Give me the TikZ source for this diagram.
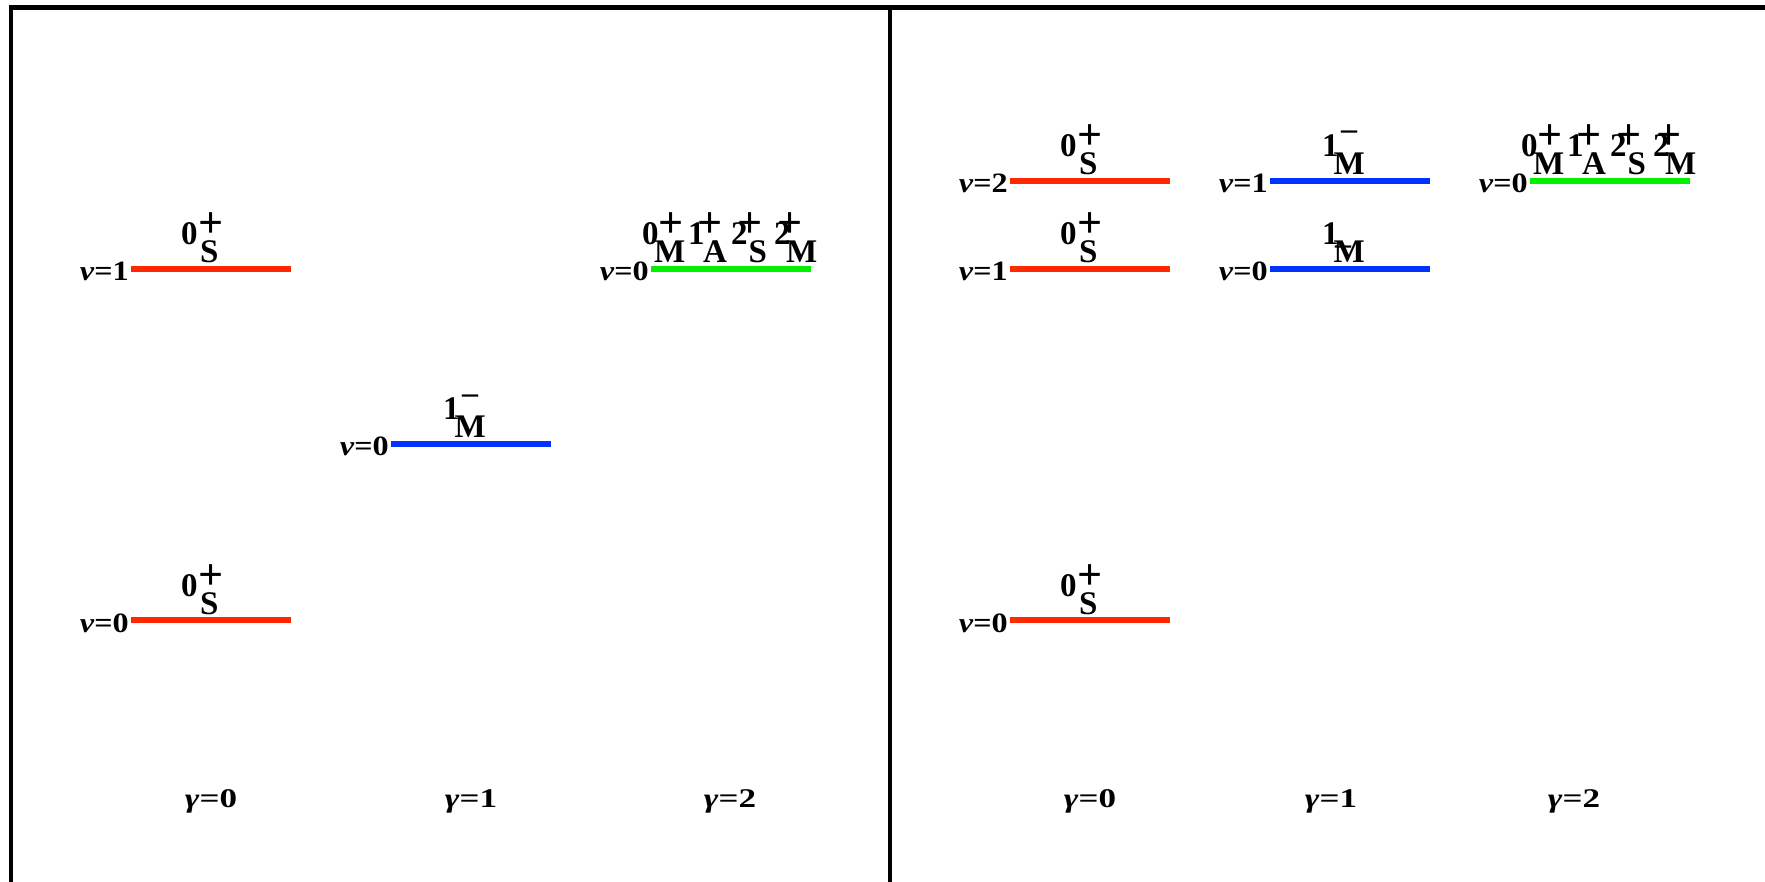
\documentclass[tikz,border=0pt]{standalone}
\usepackage{fontspec}
\usepackage{graphicx}
\setmainfont{Liberation Serif}
\definecolor{lvred}{RGB}{255,40,0}
\definecolor{lvblue}{RGB}{0,51,255}
\definecolor{lvgreen}{RGB}{0,240,0}

% level line: name, style, x of left end, y
\newcommand\lvlline[4]{%
  \coordinate (#1a) at (#3,#4);
  \coordinate (#1b) at (#3+160,#4);
  \draw[#2] (#1a) -- (#1b);}
% vibrational label left of a level: name, text
\newcommand\nulabel[2]{%
  \node[nulab,anchor=base east] (#1n) at ([xshift=-2pt,yshift=-12pt]#1a)
    {\scalebox{1.15}[1]{\textit{ν}=#2}};}
% J^P_K term: name, digit x, baseline, digit, sub x, sub, sign x, sign y, sign
\newcommand\jt[9]{%
  \node[lab,anchor=base west] (#1d) at (#2,#3) {#4};
  \node[lab,anchor=base west] (#1s) at (#5,#3+18) {#6};
  \node[signlab,anchor=center] (#1p) at (#7,#8) {#9};}
\newcommand\minussign{{\fontsize{32}{36}\selectfont –}}

\begin{document}
\begin{tikzpicture}[x=1pt,y=-1pt,
  frame/.style={line width=4.5pt,black},
  redlvl/.style={line width=6pt,lvred},
  bluelvl/.style={line width=6pt,lvblue},
  greenlvl/.style={line width=6pt,lvgreen},
  lab/.style={inner sep=0pt,font=\fontsize{33}{36}\selectfont\bfseries},
  signlab/.style={inner sep=0pt,font=\fontsize{44}{48}\selectfont\bfseries},
  nulab/.style={inner sep=0pt,font=\fontsize{28}{30}\selectfont\bfseries},
  gamlab/.style={inner sep=0pt,font=\fontsize{27}{30}\selectfont\bfseries}]
\useasboundingbox (0,0) rectangle (1765,882);

% panel frame
\coordinate (bl) at (11,882);
\coordinate (tl) at (11,7.5);
\coordinate (tr) at (1765,7.5);
\coordinate (mt) at (890,7.5);
\coordinate (mb) at (890,882);
\draw[frame] (bl) -- (tl) -- (tr);
\draw[frame] (mt) -- (mb);

% ---------- left panel ----------
\lvlline{La}{redlvl}{131}{268.7}
\lvlline{Lb}{redlvl}{131}{620}
\lvlline{Lc}{bluelvl}{391}{444}
\lvlline{Lg}{greenlvl}{651}{268.7}
\nulabel{La}{1}
\nulabel{Lb}{0}
\nulabel{Lc}{0}
\nulabel{Lg}{0}
\jt{ta}{181}{244.7}{0}{200}{S}{211}{225.5}{+}
\jt{tb}{181}{596}{0}{200}{S}{211}{577}{+}
\jt{tc}{443}{420}{1}{454.5}{M}{470}{399}{\minussign}
\jt{tga}{642}{244.7}{0}{654}{M}{671}{225.5}{+}
\jt{tgb}{688}{244.7}{1}{703}{A}{710}{225.5}{+}
\jt{tgc}{731}{244.7}{2}{748.5}{S}{750}{225.5}{+}
\jt{tgd}{774}{244.7}{2}{786}{M}{790.5}{225.5}{+}

% ---------- right panel ----------
\lvlline{Ra}{redlvl}{1010}{180.7}
\lvlline{Rb}{redlvl}{1010}{268.7}
\lvlline{Rc}{redlvl}{1010}{620}
\lvlline{Rd}{bluelvl}{1270}{180.7}
\lvlline{Re}{bluelvl}{1270}{268.7}
\lvlline{Rg}{greenlvl}{1530}{180.7}
\nulabel{Ra}{2}
\nulabel{Rb}{1}
\nulabel{Rc}{0}
\nulabel{Rd}{1}
\nulabel{Re}{0}
\nulabel{Rg}{0}
\jt{ua}{1060}{156.7}{0}{1079}{S}{1090}{137.5}{+}
\jt{ub}{1060}{244.7}{0}{1079}{S}{1090}{225.5}{+}
\jt{uc}{1060}{596}{0}{1079}{S}{1090}{577}{+}
\jt{ud}{1322}{156.7}{1}{1333.5}{M}{1349}{135.7}{\minussign}
\jt{ue}{1322}{244.7}{1}{1333.5}{M}{1343}{250}{\minussign}
\jt{uga}{1521}{156.7}{0}{1533}{M}{1550}{137.5}{+}
\jt{ugb}{1567}{156.7}{1}{1582}{A}{1589}{137.5}{+}
\jt{ugc}{1610}{156.7}{2}{1627.5}{S}{1629}{137.5}{+}
\jt{ugd}{1653}{156.7}{2}{1665}{M}{1669.5}{137.5}{+}

% ---------- gamma labels ----------
\node[gamlab,anchor=base] (g0) at (211,807) {\scalebox{1.3}[1]{\textit{γ}=0}};
\node[gamlab,anchor=base] (g1) at (471,807) {\scalebox{1.3}[1]{\textit{γ}=1}};
\node[gamlab,anchor=base] (g2) at (730,807) {\scalebox{1.3}[1]{\textit{γ}=2}};
\node[gamlab,anchor=base] (h0) at (1090,807) {\scalebox{1.3}[1]{\textit{γ}=0}};
\node[gamlab,anchor=base] (h1) at (1331,807) {\scalebox{1.3}[1]{\textit{γ}=1}};
\node[gamlab,anchor=base] (h2) at (1574,807) {\scalebox{1.3}[1]{\textit{γ}=2}};
\end{tikzpicture}
\end{document}
